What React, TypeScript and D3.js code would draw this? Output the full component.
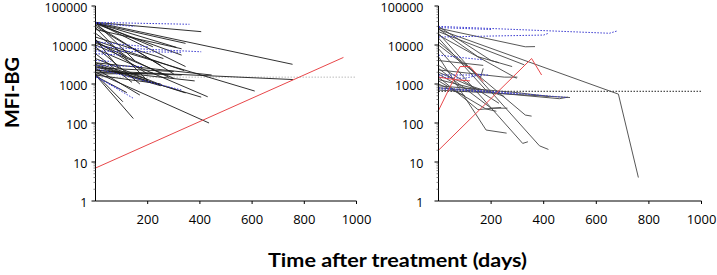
import React from "react";
import * as d3 from "d3";

type Pt = [number, number];

// ---------- data (day, MFI-BG) ----------
const yTicks = [1, 10, 100, 1000, 10000, 100000];
const xTicks = [200, 400, 600, 800, 1000];

const leftBlack: Pt[][] = [
  [[0, 38000], [405, 22000]],
  [[0, 38000], [755, 3200]],
  [[0, 36000], [345, 11000]],
  [[0, 37000], [310, 8700]],
  [[0, 35000], [330, 5500]],
  [[0, 38000], [345, 2800]],
  [[0, 33000], [300, 1800]],
  [[0, 30000], [250, 3000]],
  [[0, 28000], [200, 1200]],
  [[0, 38000], [150, 4000]],
  [[0, 13000], [340, 2200]],
  [[0, 12000], [280, 1500]],
  [[0, 11000], [610, 660]],
  [[0, 13000], [200, 1800]],
  [[0, 9000], [170, 1000]],
  [[0, 8000], [430, 470]],
  [[0, 3500], [445, 1700]],
  [[0, 3000], [405, 460]],
  [[0, 2200], [757, 1300]],
  [[0, 2000], [435, 100]],
  [[0, 1700], [145, 130]],
  [[0, 3200], [345, 590]],
  [[0, 2500], [170, 520]],
  [[0, 1800], [105, 350]],
  [[0, 2800], [250, 900]],
  [[0, 2000], [330, 1700]],
  [[0, 3500], [200, 1300]],
  [[0, 6000], [140, 1100]],
  [[0, 4500], [260, 900]],
  [[0, 1600], [120, 600]],
  [[0, 20000], [120, 5000]],
  [[0, 25000], [330, 8000]],
  [[0, 1800], [220, 1900]],
  [[0, 2600], [300, 2100]],
  [[0, 14000], [90, 2500]],
  [[0, 16000], [260, 4500]],
  [[0, 38000], [220, 9000]],
  [[0, 2300], [380, 1200]],
  [[0, 1700], [250, 1000]],
  [[0, 10000], [300, 1400]],
];

const leftBlue: Pt[][] = [
  [[0, 38000], [360, 34000]],
  [[0, 36000], [150, 30000]],
  [[0, 9000], [405, 6700]],
  [[0, 7000], [330, 6500]],
  [[0, 12000], [200, 9000]],
  [[0, 1600], [145, 430]],
  [[0, 2500], [330, 700]],
  [[0, 6000], [100, 5500]],
  [[0, 3000], [180, 2800]],
  [[0, 1500], [100, 700]],
  [[0, 4000], [60, 3800]],
];

const leftRed: Pt[][] = [[[0, 7], [950, 4800]]];
const leftCutoff = 1500;

const rightBlack: Pt[][] = [
  [[0, 25000], [684, 550], [760, 4]],
  [[0, 27000], [330, 9000], [367, 9100]],
  [[0, 22000], [326, 3100]],
  [[0, 26000], [150, 5000], [230, 3500]],
  [[0, 18000], [297, 1400]],
  [[0, 15000], [180, 700], [250, 480]],
  [[0, 12000], [330, 160], [354, 150]],
  [[0, 20000], [384, 26], [418, 21]],
  [[0, 8000], [320, 30], [340, 33]],
  [[0, 5000], [181, 66], [259, 55]],
  [[0, 2500], [200, 240], [262, 240]],
  [[0, 3000], [230, 320]],
  [[0, 1500], [150, 220], [238, 250]],
  [[0, 1200], [180, 230], [220, 200]],
  [[0, 800], [460, 420], [492, 460]],
  [[0, 700], [500, 450]],
  [[0, 2000], [120, 900], [200, 600]],
  [[0, 1000], [100, 500]],
  [[0, 2300], [250, 1500], [300, 1500]],
  [[0, 1300], [160, 700]],
  [[0, 4000], [170, 3000]],
  [[0, 10000], [160, 1500], [170, 2500]],
  [[0, 30000], [200, 4000], [280, 2800]],
  [[0, 900], [300, 600], [420, 480]],
  [[0, 1800], [90, 800], [140, 700]],
];

const rightBlue: Pt[][] = [
  [[0, 30000], [650, 20000], [680, 23000]],
  [[0, 28000], [200, 25000]],
  [[0, 16000], [400, 18000], [418, 20000]],
  [[0, 5500], [165, 4200]],
  [[0, 1700], [190, 1700]],
  [[0, 800], [200, 650], [490, 450]],
  [[0, 1500], [100, 1400], [170, 1800]],
  [[0, 750], [300, 550]],
];

const rightRed: Pt[][] = [
  [[0, 20], [354, 4500], [392, 1700]],
  [[0, 210], [82, 2800], [120, 2800], [170, 1150]],
  [[0, 1500], [60, 1300], [120, 1200]],
];
const rightCutoff = 650;

// ---------- layout ----------
const W = 717;
const H = 275;
const yTop = 6;
const yBot = 201;
const FONT = "'Open Sans', sans-serif";

const y = d3.scaleLog().domain([1, 100000]).range([yBot, yTop]);

function Panel(props: {
  x0: number;
  x1: number;
  labelGap: number;
  black: Pt[][];
  blue: Pt[][];
  red: Pt[][];
  cutoff: number;
  cutoffColor: string;
  blackColor: string;
}) {
  const { x0, x1, labelGap, black, blue, red, cutoff, cutoffColor, blackColor } = props;
  const x = d3.scaleLinear().domain([0, 1000]).range([x0, x1]);
  const line = d3
    .line<Pt>()
    .x((d) => x(d[0]))
    .y((d) => y(d[1]));

  const minor: number[] = [];
  for (let e = 0; e < 5; e++) {
    for (let m = 2; m <= 9; m++) minor.push(m * Math.pow(10, e));
  }

  return (
    <g>
      <line
        x1={x(0)}
        x2={x(1000)}
        y1={y(cutoff)}
        y2={y(cutoff)}
        stroke={cutoffColor}
        strokeWidth={1}
        strokeDasharray="1.5,1.5"
      />
      {black.map((s, i) => (
        <path key={"k" + i} d={line(s) || ""} fill="none" stroke={blackColor} strokeWidth={0.9} />
      ))}
      {blue.map((s, i) => (
        <path
          key={"b" + i}
          d={line(s) || ""}
          fill="none"
          stroke="#3a3ad0"
          strokeWidth={1}
          strokeDasharray="1.5,1.5"
        />
      ))}
      {red.map((s, i) => (
        <path key={"r" + i} d={line(s) || ""} fill="none" stroke="#e8474a" strokeWidth={1} />
      ))}
      <line x1={x0} x2={x0} y1={yTop} y2={yBot} stroke="#000" strokeWidth={1} />
      {yTicks.map((t) => (
        <g key={"yt" + t}>
          <line x1={x0 - 4} x2={x0} y1={y(t)} y2={y(t)} stroke="#000" strokeWidth={1} />
          <text
            x={x0 - labelGap}
            y={y(t) + 1}
            dy="0.36em"
            textAnchor="end"
            fontFamily={FONT}
            fontSize={12.5}
            fill="#000"
          >
            {t}
          </text>
        </g>
      ))}
      {minor.map((t) => (
        <line key={"ym" + t} x1={x0 - 2} x2={x0} y1={y(t)} y2={y(t)} stroke="#555" strokeWidth={0.7} />
      ))}
      <line x1={x0} x2={x1} y1={yBot} y2={yBot} stroke="#000" strokeWidth={1} />
      {xTicks.map((t) => (
        <g key={"xt" + t}>
          <line x1={x(t)} x2={x(t)} y1={yBot} y2={yBot + 3} stroke="#000" strokeWidth={1} />
          <text
            x={x(t)}
            y={yBot + 23}
            textAnchor="middle"
            fontFamily={FONT}
            fontSize={13}
            fill="#000"
          >
            {t}
          </text>
        </g>
      ))}
    </g>
  );
}

export default function App() {
  return (
    <svg
      width={W}
      height={H}
      viewBox={`0 0 ${W} ${H}`}
      style={{ position: "absolute", left: 0, top: 0, background: "#fff" }}
    >
      <rect x={0} y={0} width={W} height={H} fill="#fff" />
      <Panel
        x0={95.5}
        x1={356.5}
        labelGap={8}
        black={leftBlack}
        blue={leftBlue}
        red={leftRed}
        cutoff={leftCutoff}
        cutoffColor="#bbbbbb"
        blackColor="#1a1a1a"
      />
      <Panel
        x0={438.5}
        x1={701.5}
        labelGap={15}
        black={rightBlack}
        blue={rightBlue}
        red={rightRed}
        cutoff={rightCutoff}
        cutoffColor="#222"
        blackColor="#444"
      />
      <text
        x={18.5}
        y={92.5}
        transform="rotate(-90 18.5 92.5)"
        textAnchor="middle"
        fontFamily="Lato, sans-serif"
        fontWeight="bold"
        fontSize={19}
        textLength={71}
        lengthAdjust="spacingAndGlyphs"
        fill="#000"
      >
        MFI-BG
      </text>
      <text
        x={397.5}
        y={267}
        textAnchor="middle"
        fontFamily="Lato, sans-serif"
        fontWeight="bold"
        fontSize={19}
        textLength={259}
        lengthAdjust="spacingAndGlyphs"
        fill="#000"
      >
        Time after treatment (days)
      </text>
    </svg>
  );
}
